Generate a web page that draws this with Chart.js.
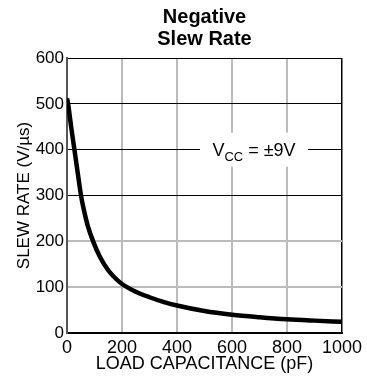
<!DOCTYPE html>
<html>
<head>
  <meta charset="UTF-8" />
  <title>Negative Slew Rate</title>
  <style>
    body { margin: 0; background: #fff; }
    canvas { display: block; }
  </style>
</head>
<body>
  <canvas id="slewChart" width="367" height="383"></canvas>

  <script src="https://cdn.jsdelivr.net/npm/chart.js"></script>
  <script>
    // values
    const capacitance = [0, 4, 15, 27, 40, 51, 60, 75, 95, 120, 150, 175, 200, 250, 300, 350, 400, 500, 600, 700, 800, 900, 1000];
    const slewRate = [512, 500, 450, 400, 345, 300, 272, 235, 200, 166, 137, 120, 107, 90, 78, 68, 60, 48, 40, 34.5, 30, 27, 24.5];
    const xTicks = [0, 200, 400, 600, 800, 1000];
    const yTicks = [0, 100, 200, 300, 400, 500, 600];
    const titleLines = ["Negative", "Slew Rate"];
    const FONT = "'Liberation Sans', Arial, sans-serif";

    // title + the VCC note with its white backing
    const extras = {
      id: "extras",
      beforeDatasetsDraw(chart) {
        const { ctx, scales } = chart;
        const cx = scales.x.getPixelForValue(680);
        const cy = scales.y.getPixelForValue(400);
        ctx.save();
        ctx.fillStyle = "#fff";
        ctx.fillRect(cx - 54, cy - 17, 108, 34);

        ctx.fillStyle = "#000";
        ctx.textBaseline = "alphabetic";
        ctx.font = "18px " + FONT;
        const wV = ctx.measureText("V").width;
        const wRest = ctx.measureText(" = ±9V").width;
        ctx.font = "13px " + FONT;
        const wSub = ctx.measureText("CC").width;
        let x = cx - (wV + wSub + wRest) / 2;
        const base = cy + 6;
        ctx.font = "18px " + FONT;
        ctx.fillText("V", x, base);
        x += wV;
        ctx.font = "13px " + FONT;
        ctx.fillText("CC", x, base + 5);
        x += wSub;
        ctx.font = "18px " + FONT;
        ctx.fillText(" = ±9V", x, base);
        ctx.restore();
      },
      afterDraw(chart) {
        const { ctx, chartArea } = chart;
        const mid = (chartArea.left + chartArea.right) / 2;
        ctx.save();
        ctx.fillStyle = "#000";
        ctx.font = "bold 20px " + FONT;
        ctx.textAlign = "center";
        ctx.textBaseline = "alphabetic";
        ctx.fillText(titleLines[0], mid, 23);
        ctx.fillText(titleLines[1], mid, 45);
        ctx.restore();
      }
    };

    new Chart(document.getElementById("slewChart"), {
      type: "line",
      data: {
        datasets: [{
          data: capacitance.map((c, i) => ({ x: c, y: slewRate[i] })),
          borderColor: "#000",
          borderWidth: 4.5,
          pointRadius: 0,
          cubicInterpolationMode: "monotone",
          fill: false
        }]
      },
      options: {
        responsive: false,
        animation: false,
        layout: { padding: { top: 58, right: 25, left: 0, bottom: 0 } },
        plugins: { legend: { display: false }, tooltip: { enabled: false }, title: { display: false } },
        scales: {
          x: {
            type: "linear",
            min: 0, max: 1000,
            afterFit: s => { s.height = 50; },
            afterBuildTicks: s => { s.ticks = xTicks.map(v => ({ value: v })); },
            grid: {
              drawTicks: false,
              color: c => c.tick && c.tick.value === 1000 ? "#000" : "#bbb",
              lineWidth: c => c.tick && c.tick.value === 1000 ? 1.5 : 2
            },
            border: { color: "#000", width: 2 },
            ticks: { color: "#000", padding: 4, maxRotation: 0, callback: v => String(v), font: { family: FONT, size: 18 } },
            title: { display: true, text: "LOAD CAPACITANCE (pF)", color: "#000", padding: { top: 0, bottom: 8 }, font: { family: FONT, size: 18 } }
          },
          y: {
            min: 0, max: 600,
            afterFit: s => { s.width = 67; },
            afterBuildTicks: s => { s.ticks = yTicks.map(v => ({ value: v })); },
            grid: {
              drawTicks: false,
              color: c => c.tick && c.tick.value >= 300 ? "#000" : "#bbb",
              lineWidth: c => c.tick && c.tick.value >= 300 ? 1 : 2
            },
            border: { color: "#555", width: 2 },
            ticks: { color: "#000", padding: 3, callback: v => String(v), font: { family: FONT, size: 17 } },
            title: { display: true, text: "SLEW RATE (V/µs)", color: "#000", padding: { top: 14, bottom: 0 }, font: { family: FONT, size: 17 } }
          }
        }
      },
      plugins: [extras]
    });
  </script>
</body>
</html>
